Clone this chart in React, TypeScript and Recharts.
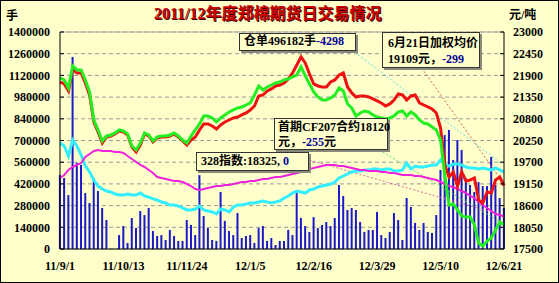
import React from "react";
import {
  ComposedChart,
  Bar,
  Line,
  XAxis,
  YAxis,
  CartesianGrid,
  ReferenceLine,
} from "recharts";

// x axis: trading-day index, one sample every 2 days
const TICK_LABELS = ["11/9/1", "11/10/13", "11/11/24", "12/1/5", "12/2/16", "12/3/29", "12/5/10", "12/6/21"];
const TICK_POS = [0, 30, 60, 90, 120, 150, 180, 210];

const LEFT_TICKS = [0, 140000, 280000, 420000, 560000, 700000, 840000, 980000, 1120000, 1260000, 1400000];
const RIGHT_TICKS = [17500, 18050, 18600, 19150, 19700, 20250, 20800, 21350, 21900, 22450, 23000];

// 成交量 (手)
const VOLUME = [
  477000, 458000, 348000, 1239000, 555000, 542000, 361000, 297000, 458000, 374000,
  265000, 187000, 0, 0, 90000, 148000, 39000, 200000, 135000, 245000,
  219000, 265000, 116000, 84000, 90000, 58000, 123000, 84000, 52000, 52000,
  187000, 155000, 90000, 477000, 213000, 135000, 58000, 52000, 368000, 181000,
  116000, 90000, 232000, 71000, 84000, 90000, 39000, 135000, 148000, 52000,
  71000, 26000, 52000, 52000, 123000, 90000, 361000, 200000, 148000, 110000,
  206000, 135000, 155000, 174000, 148000, 200000, 413000, 342000, 252000, 265000,
  252000, 174000, 110000, 123000, 123000, 239000, 90000, 71000, 110000, 232000,
  187000, 58000, 329000, 271000, 168000, 123000, 168000, 110000, 103000, 219000,
  510000, 735000, 768000, 574000, 703000, 639000, 458000, 413000, 368000, 432000,
  406000, 406000, 594000, 413000, 329000, 265000,
];

// 仓单 (手)
const WAREHOUSE = [
  684000, 665000, 600000, 703000, 665000, 606000, 535000, 497000, 445000, 406000,
  387000, 374000, 368000, 355000, 348000, 348000, 355000, 348000, 348000, 361000,
  342000, 335000, 323000, 316000, 303000, 297000, 284000, 284000, 277000, 265000,
  252000, 252000, 258000, 277000, 252000, 245000, 239000, 226000, 258000, 252000,
  239000, 271000, 284000, 284000, 290000, 297000, 297000, 303000, 310000, 303000,
  297000, 303000, 310000, 329000, 342000, 361000, 374000, 368000, 361000, 381000,
  387000, 400000, 406000, 413000, 419000, 432000, 458000, 471000, 484000, 497000,
  503000, 503000, 510000, 510000, 516000, 516000, 510000, 516000, 516000, 503000,
  503000, 510000, 555000, 516000, 535000, 529000, 529000, 535000, 542000, 542000,
  574000, 548000, 535000, 548000, 548000, 542000, 529000, 523000, 523000, 516000,
  523000, 516000, 510000, 523000, 510000, 496182,
];

// 加权均价 (元/吨)
const AVG_PRICE = [
  21733, 21683, 21505, 22063, 21962, 21962, 21708, 21404, 20719, 20466,
  20187, 20339, 20365, 20415, 20491, 20466, 20390, 20086, 19959, 20136,
  20415, 20365, 20212, 20314, 20339, 20339, 20365, 20415, 20339, 20238,
  20136, 20263, 20339, 20517, 20669, 20669, 20618, 20542, 20643, 20719,
  20770, 20821, 20846, 20897, 20948, 21024, 21125, 21379, 21404, 21505,
  21556, 21632, 21657, 21708, 21810, 21962, 22164, 22367, 22215, 21936,
  21683, 21632, 21607, 21607, 21733, 21784, 21911, 21962, 21607, 21455,
  21353, 21379, 21379, 21353, 21303, 21252, 21201, 21125, 21176, 21277,
  21429, 21404, 21277, 21379, 21404, 21201, 21150, 21100, 21049, 20948,
  20567, 19629, 19325, 19452, 19097, 19452, 19224, 19249, 19300, 18742,
  18666, 18945, 18920, 19249, 19325, 19109,
];

// 首期CF207合约 (元/吨)
const CF207 = [
  21835, 21784, 21581, 22139, 22038, 22038, 21784, 21480, 20770, 20517,
  20238, 20365, 20390, 20441, 20517, 20491, 20415, 20111, 20010, 20187,
  20441, 20390, 20238, 20339, 20365, 20365, 20390, 20441, 20365, 20263,
  20187, 20365, 20517, 20669, 20872, 20872, 20821, 20719, 20821, 20897,
  20973, 21024, 21074, 21100, 21150, 21201, 21404, 21632, 21531, 21607,
  21657, 21708, 21733, 21784, 21810, 21860, 21911, 22114, 21886, 21683,
  21480, 21353, 21277, 21277, 21328, 21404, 21581, 21505, 21176, 21074,
  20872, 20948, 20998, 20973, 20897, 20846, 20821, 20796, 20821, 20872,
  20973, 20998, 20872, 20973, 20897, 20770, 20694, 20669, 20593, 20517,
  20263, 19376, 18615, 18641, 18489, 18337, 18311, 18311, 18108, 17652,
  17576, 17703, 17779, 17982, 18184, 18120,
];

// 328指数 (元/吨)
const INDEX_328 = [
  19300, 19376, 19503, 19579, 19629, 19680, 19832, 19908, 19984, 20010,
  19984, 19984, 19984, 19959, 19959, 19934, 19858, 19782, 19705, 19629,
  19579, 19503, 19427, 19325, 19300, 19275, 19249, 19224, 19224, 19198,
  19148, 19097, 19021, 18996, 19021, 19046, 19072, 19097, 19097, 19122,
  19122, 19148, 19173, 19198, 19198, 19224, 19224, 19249, 19275, 19275,
  19300, 19325, 19325, 19351, 19376, 19401, 19427, 19452, 19503, 19528,
  19553, 19579, 19604, 19629, 19629, 19629, 19604, 19604, 19579, 19553,
  19528, 19503, 19503, 19477, 19477, 19477, 19452, 19452, 19427, 19427,
  19401, 19376, 19376, 19376, 19351, 19351, 19325, 19300, 19275, 19249,
  19198, 19148, 19097, 19072, 19021, 18970, 18920, 18844, 18793, 18691,
  18615, 18539, 18463, 18387, 18362, 18325,
];

const data = VOLUME.map((v, i) => ({
  x: i * 2,
  volume: v,
  warehouse: WAREHOUSE[i],
  avg: AVG_PRICE[i],
  cf207: CF207[i],
  idx: INDEX_328[i],
}));

const FONT = "'Times New Roman', 'Liberation Serif', 'Noto Sans CJK SC', serif";
const tickStyle = { fontSize: 12, fontWeight: 700, fill: "#000", fontFamily: FONT };
const BLUE = "#000099";

const boxStyle: React.CSSProperties = {
  position: "absolute",
  background: "#FFFFCC",
  border: "1px solid #333",
  boxShadow: "2px 2px 0 #8a8a7a",
  fontFamily: FONT,
  fontWeight: 700,
  fontSize: 12,
  lineHeight: "15px",
  whiteSpace: "nowrap",
  color: "#000",
  boxSizing: "border-box",
  padding: "0 4px",
};

export default function App() {
  return (
    <div
      style={{
        position: "absolute",
        left: 0,
        top: 0,
        width: 559,
        height: 283,
        background: "#FFFFCC",
        fontFamily: FONT,
      }}
    >
      <div
        style={{
          position: "absolute",
          left: 0,
          top: 0,
          width: 557,
          height: 281,
          border: "1px solid #000",
        }}
      />
      <ComposedChart
        width={559}
        height={283}
        data={data}
        margin={{ top: 32, right: 0, bottom: 14, left: 0 }}
      >
        <CartesianGrid yAxisId="left" vertical={false} stroke="#9a9a9a" strokeDasharray="4 3" />
        <XAxis
          type="number"
          dataKey="x"
          domain={[0, 210]}
          ticks={TICK_POS}
          interval={0}
          tickFormatter={(v) => TICK_LABELS[TICK_POS.indexOf(v)] ?? ""}
          tick={tickStyle}
          tickLine={false}
          tickMargin={6}
          axisLine={{ stroke: "#000" }}
          height={20}
        />
        <YAxis
          yAxisId="left"
          domain={[0, 1400000]}
          ticks={LEFT_TICKS}
          interval={0}
          tick={tickStyle}
          tickSize={-4}
          tickMargin={14}
          tickLine={{ stroke: "#000" }}
          axisLine={{ stroke: "#000" }}
          width={60}
        />
        <YAxis
          yAxisId="right"
          orientation="right"
          domain={[17500, 23000]}
          ticks={RIGHT_TICKS}
          interval={0}
          tick={tickStyle}
          tickSize={-4}
          tickMargin={13}
          tickLine={{ stroke: "#000" }}
          axisLine={{ stroke: "#000" }}
          width={55}
        />
        <ReferenceLine yAxisId="left" y={1400000} stroke="#aaa" />

        <Bar yAxisId="left" dataKey="volume" fill="#1a1acc" barSize={2} isAnimationActive={false} />

        {/* leader lines from the note boxes */}
        <ReferenceLine
          yAxisId="left"
          segment={[{ x: 138, y: 1284000 }, { x: 208, y: 560000 }]}
          stroke="#66dddd"
          strokeDasharray="2 2"
        />
        <ReferenceLine
          yAxisId="right"
          segment={[{ x: 171, y: 22088 }, { x: 208, y: 19300 }]}
          stroke="#cc6644"
          strokeDasharray="2 2"
        />
        <ReferenceLine
          yAxisId="right"
          segment={[{ x: 151, y: 20010 }, { x: 209, y: 18160 }]}
          stroke="#66dd66"
          strokeDasharray="2 2"
        />
        <ReferenceLine
          yAxisId="right"
          segment={[{ x: 118, y: 19756 }, { x: 209, y: 18362 }]}
          stroke="#dd66aa"
          strokeDasharray="2 2"
        />

        <Line yAxisId="left" dataKey="warehouse" stroke="#33eeff" strokeWidth={3} dot={false} isAnimationActive={false} />
        <Line yAxisId="right" dataKey="idx" stroke="#ee22dd" strokeWidth={2} dot={false} isAnimationActive={false} />
        <Line yAxisId="right" dataKey="avg" stroke="#ee1111" strokeWidth={3} dot={false} isAnimationActive={false} />
        <Line yAxisId="right" dataKey="cf207" stroke="#22ee22" strokeWidth={3} dot={false} isAnimationActive={false} />
      </ComposedChart>

      <div
        style={{
          position: "absolute",
          left: 154,
          top: 4,
          fontSize: 16,
          fontWeight: 700,
          color: "#cc0000",
          textShadow: "1px 1px 0 #3a0000",
          whiteSpace: "nowrap",
          lineHeight: "20px",
        }}
      >
        2011/12年度郑棉期货日交易情况
      </div>
      <div style={{ position: "absolute", left: 6, top: 9, fontSize: 12, fontWeight: 700, lineHeight: "14px" }}>手</div>
      <div style={{ position: "absolute", left: 509, top: 8, fontSize: 12, fontWeight: 700, lineHeight: "14px" }}>元/吨</div>

      <div style={{ ...boxStyle, left: 239, top: 33, width: 117, height: 18 }}>
        仓单496182手<span style={{ color: BLUE }}>-4298</span>
      </div>
      <div style={{ ...boxStyle, left: 382, top: 32, width: 98, height: 36, padding: "2px 5px", lineHeight: "16px" }}>
        6月21日加权均价
        <br />
        19109元，<span style={{ color: BLUE }}>-299</span>
      </div>
      <div style={{ ...boxStyle, left: 274, top: 118, width: 114, height: 32, padding: "1px 3px", lineHeight: "15px" }}>
        首期CF207合约18120
        <br />
        元，<span style={{ color: BLUE }}>-255</span>元
      </div>
      <div style={{ ...boxStyle, left: 196, top: 152, width: 113, height: 19, padding: "1px 4px" }}>
        328指数:18325, <span style={{ color: BLUE }}>0</span>
      </div>
    </div>
  );
}
